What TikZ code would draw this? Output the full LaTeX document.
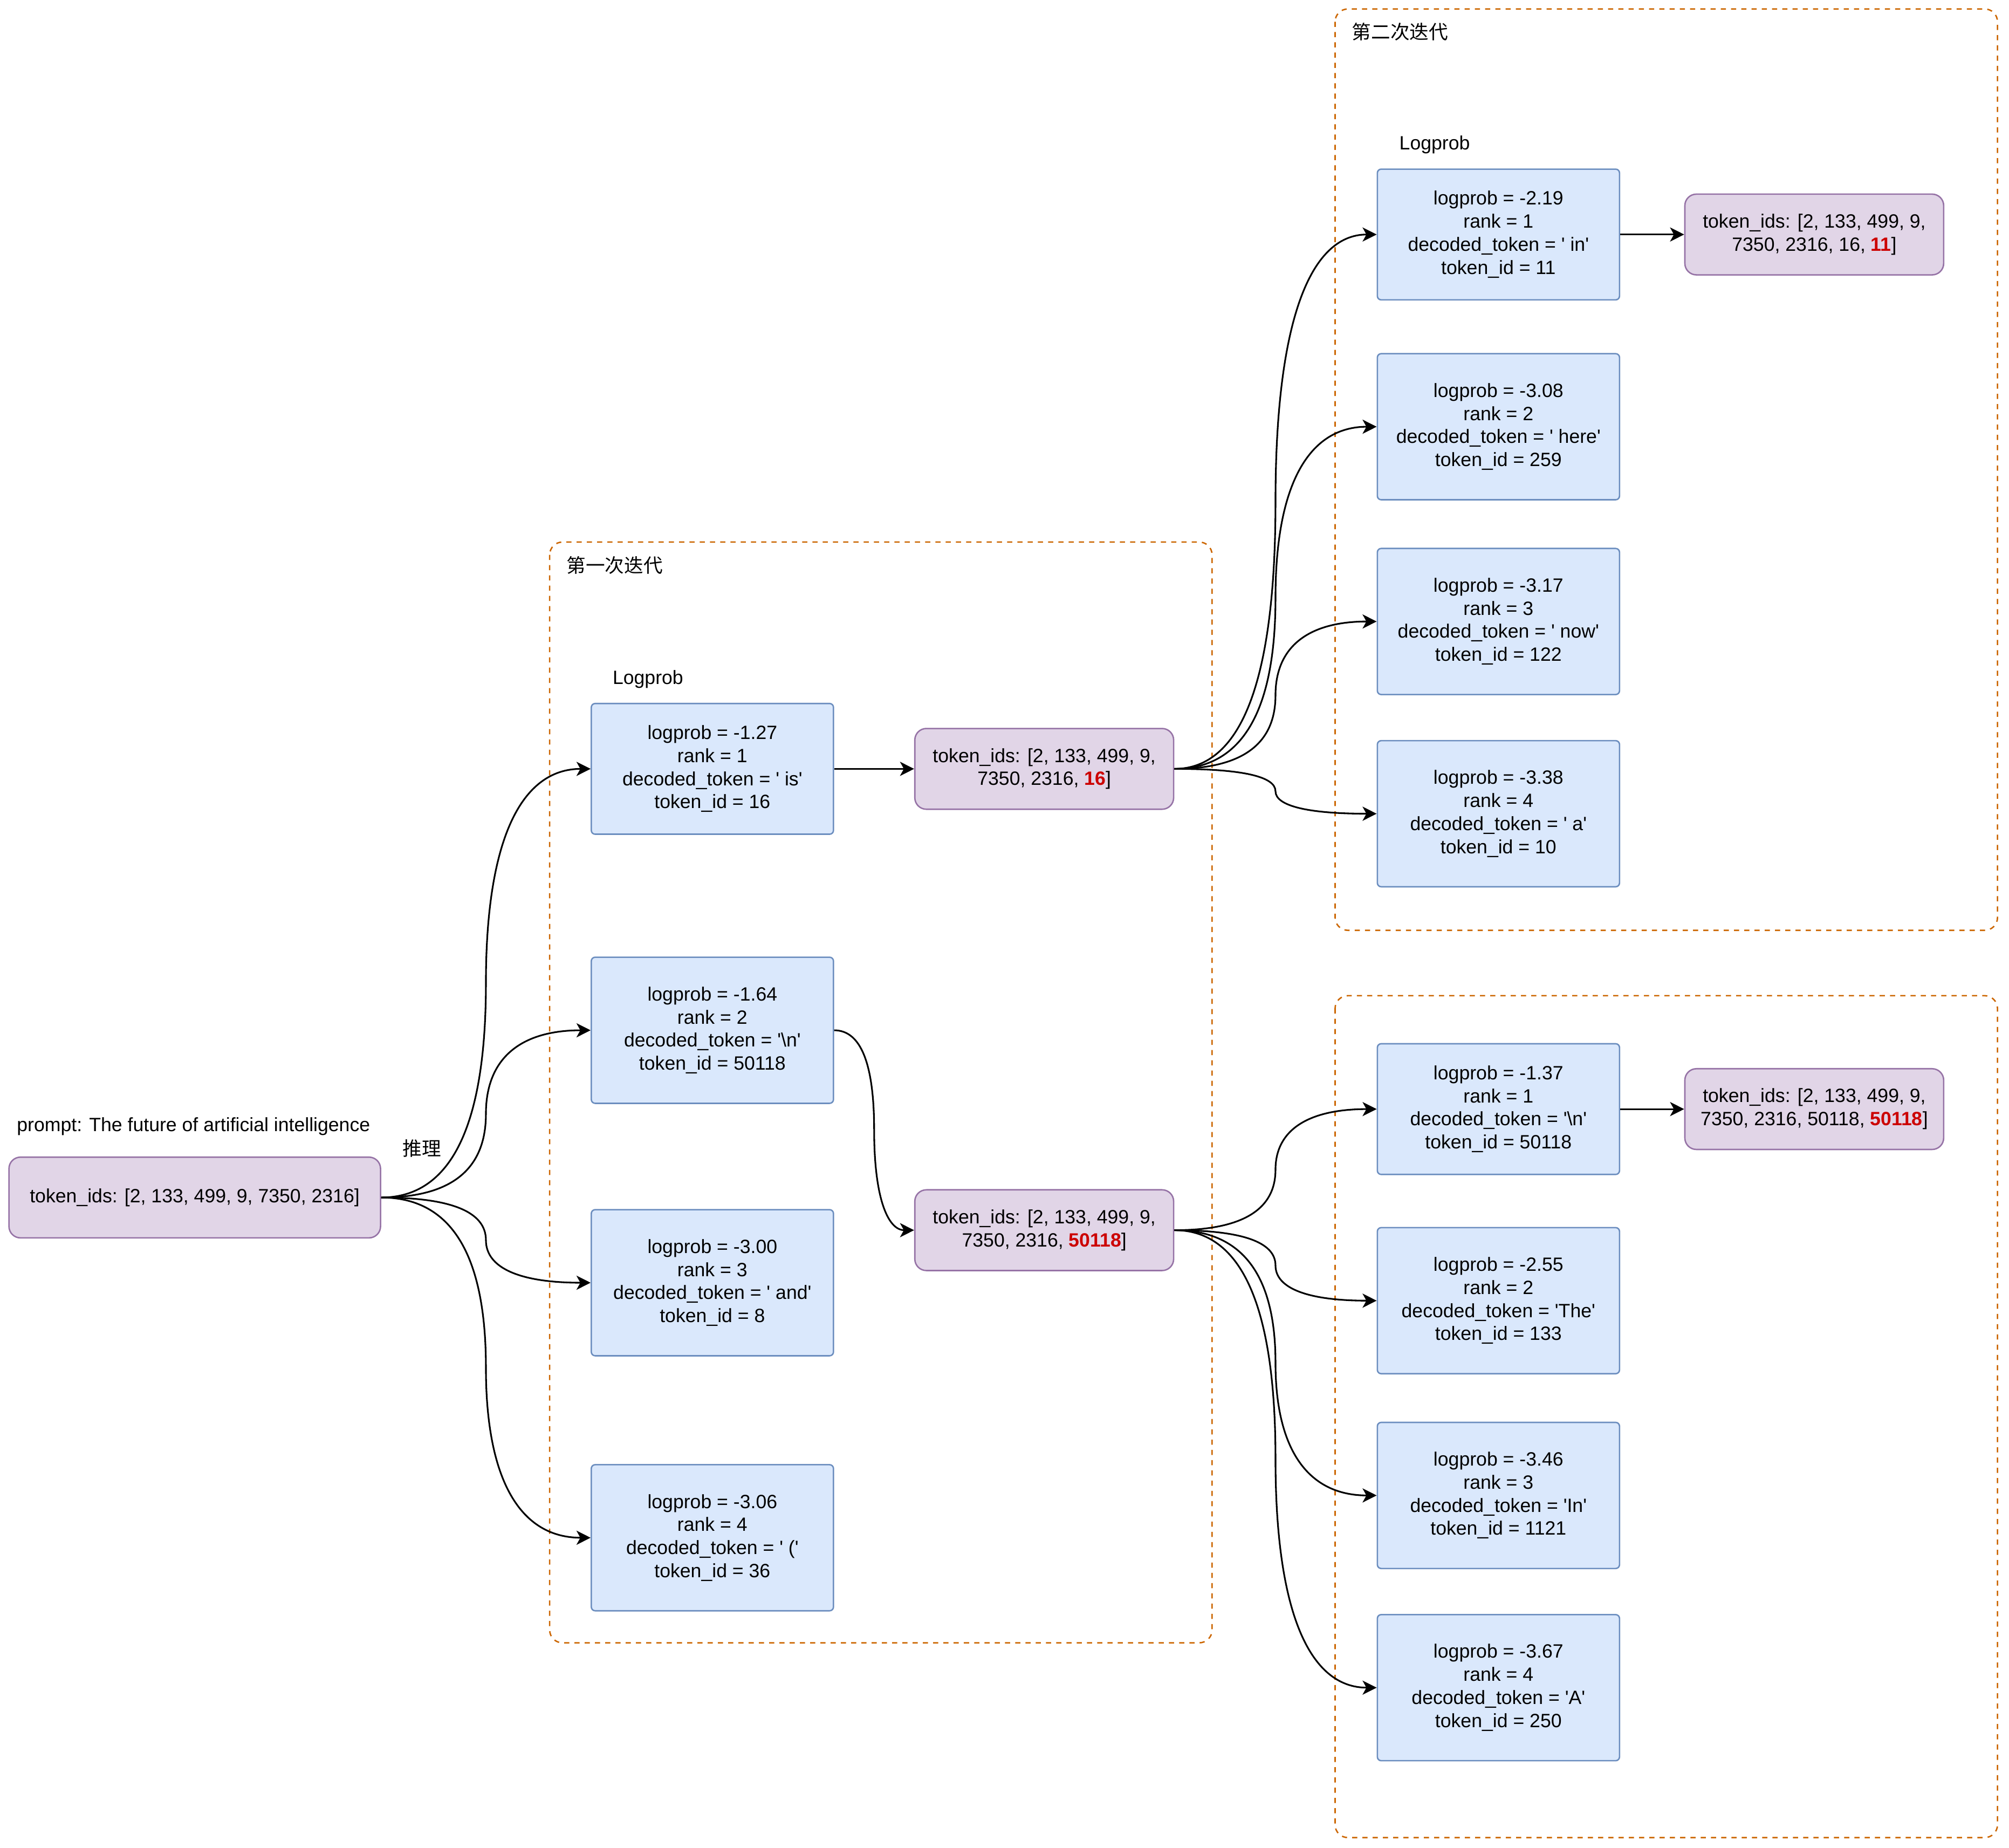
\documentclass[tikz,border=0pt]{standalone}
\usepackage{fontspec}
\setmainfont{Liberation Sans}
\newfontfamily\cjk{Noto Sans CJK SC}
\usetikzlibrary{arrows.meta,calc}
\definecolor{bluefill}{HTML}{DAE8FC}
\definecolor{bluedraw}{HTML}{6C8EBF}
\definecolor{purfill}{HTML}{E1D5E7}
\definecolor{purdraw}{HTML}{9673A6}
\definecolor{grpdraw}{HTML}{CC6600}
\definecolor{hired}{HTML}{CC0000}
\newcommand\q{\textquotesingle}
\newcommand\hl[1]{\textcolor{hired}{\textbf{#1}}}
\begin{document}
\begin{tikzpicture}[x=1pt,y=-1pt,
  every node/.style={font=\fontsize{15}{18}\selectfont},
  bluebox/.style={draw=bluedraw,fill=bluefill,line width=1.1pt,rounded corners=3pt,minimum width=189pt,align=center,inner sep=0pt},
  purbox/.style={draw=purdraw,fill=purfill,line width=1.1pt,rounded corners=9pt,minimum width=202pt,minimum height=63pt,align=center,inner sep=0pt},
  grp/.style={draw=grpdraw,dash pattern=on 4pt off 4pt,line width=1.1pt,rounded corners=10pt},
  lbl/.style={anchor=west,inner sep=0pt},
  arr/.style={line width=1.3pt,-{Stealth[length=11pt,width=11pt,inset=3pt]}},
  curv/.style={to path={let \p1=(\tikztostart), \p2=(\tikztotarget), \p3=($(\p1)!0.5!(\p2)$) in
     .. controls ($(\p1)!0.6667!(\x3,\y1)$) and ($(\p3)!0.6667!(\x3,\y1)$) .. (\p3)
     .. controls ($(\p3)!0.6667!(\x3,\y2)$) and ($(\p2)!0.6667!(\x3,\y2)$) .. (\tikztotarget) \tikztonodes}}
]
\fill[white] (0,0) rectangle (1568,1442);
\useasboundingbox (0,0) rectangle (1568,1442);

% groups
\draw[grp] (429,423) rectangle (946,1282);
\draw[grp] (1042,7) rectangle (1559,726);
\draw[grp] (1042,777) rectangle (1559,1434);

% labels
\node[lbl] (prompt) at (13,879) {prompt: The future of artificial intelligence};
\node[lbl] (infer) at (314,896) {\cjk 推理};
\node[lbl] (it1) at (442,441) {\cjk 第一次迭代};
\node[lbl] (lp1) at (478,530) {Logprob};
\node[lbl] (it2) at (1055,25) {\cjk 第二次迭代};
\node[lbl] (lp2) at (1092,113) {Logprob};

% prompt box
\node[purbox,minimum width=290pt] (p0) at (152,934.5) {token\_ids: [2, 133, 499, 9, 7350, 2316]};

% first iteration
\node[bluebox,minimum height=102pt] (a1) at (556,600) {logprob = -1.27\\rank = 1\\decoded\_token = \q{} is\q\\token\_id = 16};
\node[bluebox,minimum height=114pt] (a2) at (556,804) {logprob = -1.64\\rank = 2\\decoded\_token = \q\textbackslash n\q\\token\_id = 50118};
\node[bluebox,minimum height=114pt] (a3) at (556,1001) {logprob = -3.00\\rank = 3\\decoded\_token = \q{} and\q\\token\_id = 8};
\node[bluebox,minimum height=114pt] (a4) at (556,1200) {logprob = -3.06\\rank = 4\\decoded\_token = \q{} (\q\\token\_id = 36};
\node[purbox] (q1) at (815,600) {token\_ids: [2, 133, 499, 9,\\7350, 2316, \hl{16}]};
\node[purbox] (q2) at (815,960) {token\_ids: [2, 133, 499, 9,\\7350, 2316, \hl{50118}]};

% second iteration (top)
\node[bluebox,minimum height=102pt] (b1) at (1169.5,183) {logprob = -2.19\\rank = 1\\decoded\_token = \q{} in\q\\token\_id = 11};
\node[bluebox,minimum height=114pt] (b2) at (1169.5,333) {logprob = -3.08\\rank = 2\\decoded\_token = \q{} here\q\\token\_id = 259};
\node[bluebox,minimum height=114pt] (b3) at (1169.5,485) {logprob = -3.17\\rank = 3\\decoded\_token = \q{} now\q\\token\_id = 122};
\node[bluebox,minimum height=114pt] (b4) at (1169.5,635) {logprob = -3.38\\rank = 4\\decoded\_token = \q{} a\q\\token\_id = 10};
\node[purbox] (r1) at (1416,183) {token\_ids: [2, 133, 499, 9,\\7350, 2316, 16, \hl{11}]};

% second iteration (bottom)
\node[bluebox,minimum height=102pt] (c1) at (1169.5,865.5) {logprob = -1.37\\rank = 1\\decoded\_token = \q\textbackslash n\q\\token\_id = 50118};
\node[bluebox,minimum height=114pt] (c2) at (1169.5,1015) {logprob = -2.55\\rank = 2\\decoded\_token = \q The\q\\token\_id = 133};
\node[bluebox,minimum height=114pt] (c3) at (1169.5,1167) {logprob = -3.46\\rank = 3\\decoded\_token = \q In\q\\token\_id = 1121};
\node[bluebox,minimum height=114pt] (c4) at (1169.5,1317) {logprob = -3.67\\rank = 4\\decoded\_token = \q A\q\\token\_id = 250};
\node[purbox] (r2) at (1416,865.5) {token\_ids: [2, 133, 499, 9,\\7350, 2316, 50118, \hl{50118}]};

% connectors
\draw[arr] (p0.east) to[curv] (a1.west);
\draw[arr] (p0.east) to[curv] (a2.west);
\draw[arr] (p0.east) to[curv] (a3.west);
\draw[arr] (p0.east) to[curv] (a4.west);
\draw[arr] (a1.east) -- (q1.west);
\draw[arr] (a2.east) to[curv] (q2.west);
\draw[arr] (q1.east) to[curv] (b1.west);
\draw[arr] (q1.east) to[curv] (b2.west);
\draw[arr] (q1.east) to[curv] (b3.west);
\draw[arr] (q1.east) to[curv] (b4.west);
\draw[arr] (b1.east) -- (r1.west);
\draw[arr] (q2.east) to[curv] (c1.west);
\draw[arr] (q2.east) to[curv] (c2.west);
\draw[arr] (q2.east) to[curv] (c3.west);
\draw[arr] (q2.east) to[curv] (c4.west);
\draw[arr] (c1.east) -- (r2.west);
\end{tikzpicture}
\end{document}
